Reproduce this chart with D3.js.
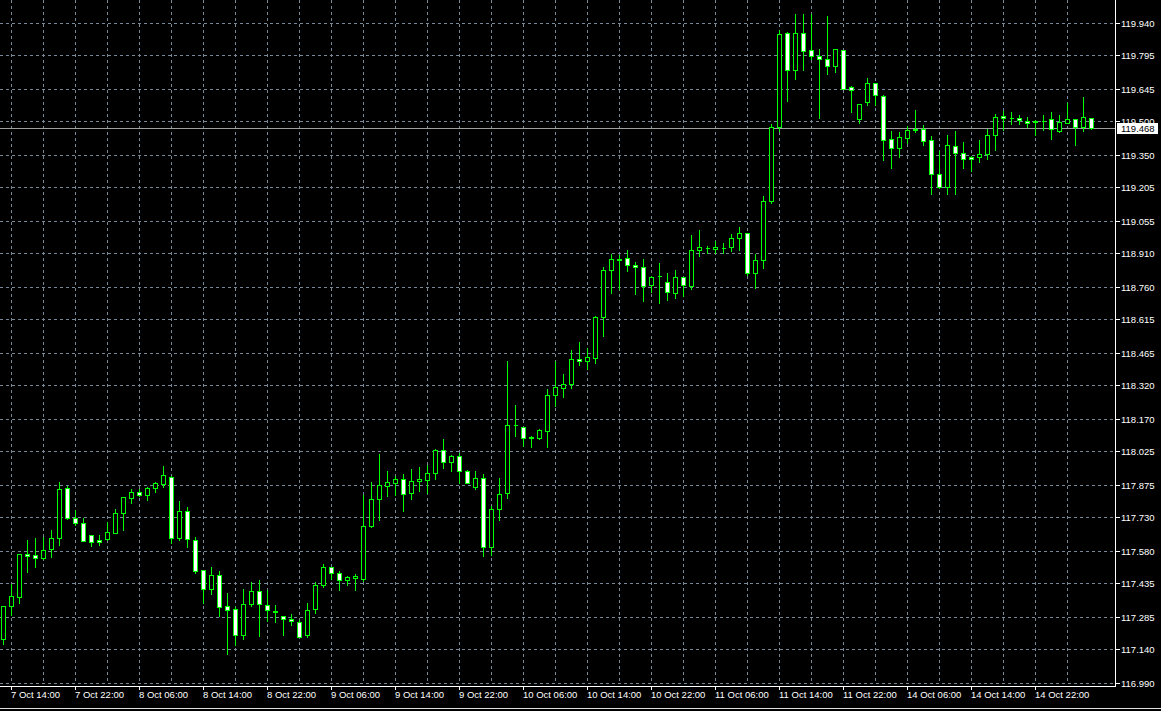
<!DOCTYPE html>
<html><head><meta charset="utf-8">
<script src="https://cdn.jsdelivr.net/npm/d3@7"></script>
<style>html,body{margin:0;padding:0;background:#000;overflow:hidden}</style>
</head><body><svg id="c" width="1161" height="711"></svg>
<script>
// H1 candles, 7 Oct 13:00 .. 15 Oct 05:00
const opens = [117.187,117.334,117.374,117.567,117.562,117.547,117.587,117.636,117.862,117.726,117.705,117.652,117.629,117.634,117.661,117.750,117.815,117.844,117.829,117.860,117.878,117.911,117.636,117.759,117.630,117.495,117.410,117.473,117.334,117.321,117.205,117.341,117.401,117.339,117.313,117.290,117.277,117.263,117.205,117.319,117.426,117.509,117.482,117.450,117.458,117.456,117.690,117.811,117.869,117.882,117.902,117.838,117.891,117.896,117.929,118.032,117.978,118.005,117.938,117.866,117.906,117.598,117.768,117.839,118.142,118.133,118.087,118.083,118.115,118.276,118.307,118.325,118.438,118.429,118.441,118.626,118.836,118.882,118.890,118.859,118.850,118.767,118.808,118.783,118.733,118.805,118.763,118.924,118.933,118.930,118.935,118.936,118.978,119.002,118.820,118.882,119.143,119.474,119.893,119.729,119.893,119.817,119.793,119.780,119.746,119.820,119.651,119.511,119.586,119.672,119.615,119.419,119.380,119.425,119.463,119.467,119.417,119.265,119.206,119.391,119.359,119.341,119.341,119.355,119.440,119.525,119.516,119.514,119.502,119.499,119.501,119.508,119.456,119.493,119.508,119.476,119.516];
const highs = [117.336,117.434,117.570,117.631,117.640,117.647,117.677,117.894,117.872,117.768,117.732,117.653,117.653,117.711,117.772,117.823,117.859,117.862,117.869,117.894,117.963,117.921,117.809,117.779,117.644,117.500,117.510,117.495,117.398,117.332,117.412,117.447,117.456,117.410,117.340,117.295,117.304,117.273,117.349,117.447,117.526,117.511,117.492,117.474,117.482,117.832,117.894,118.015,117.939,117.921,117.926,117.952,117.957,117.966,118.041,118.082,118.011,118.023,117.944,117.939,117.929,117.784,117.908,118.431,118.234,118.137,118.096,118.130,118.306,118.435,118.376,118.484,118.516,118.492,118.635,118.852,118.909,118.908,118.931,118.877,118.890,118.811,118.872,118.827,118.841,118.808,118.994,119.020,118.945,118.967,118.960,118.999,119.030,119.003,118.912,119.170,119.493,119.911,119.902,119.985,119.985,119.985,119.829,119.973,119.824,119.824,119.660,119.577,119.696,119.675,119.620,119.463,119.455,119.481,119.553,119.486,119.440,119.370,119.441,119.459,119.410,119.350,119.419,119.471,119.535,119.550,119.547,119.531,119.523,119.511,119.531,119.548,119.531,119.586,119.511,119.612,119.520];
const lows = [117.164,117.294,117.348,117.484,117.507,117.545,117.552,117.608,117.720,117.696,117.623,117.601,117.605,117.630,117.660,117.675,117.793,117.824,117.806,117.842,117.864,117.616,117.630,117.596,117.482,117.348,117.388,117.288,117.120,117.158,117.185,117.334,117.198,117.265,117.261,117.203,117.248,117.194,117.194,117.304,117.417,117.452,117.404,117.426,117.404,117.443,117.686,117.717,117.824,117.830,117.757,117.811,117.847,117.839,117.902,117.949,117.938,117.884,117.881,117.855,117.556,117.562,117.717,117.815,118.092,118.048,118.045,118.081,118.045,118.227,118.267,118.307,118.410,118.392,118.419,118.539,118.733,118.748,118.830,118.726,118.696,118.736,118.689,118.700,118.708,118.721,118.751,118.897,118.909,118.912,118.912,118.918,118.923,118.812,118.754,118.842,119.133,119.456,119.590,119.687,119.729,119.780,119.514,119.709,119.720,119.642,119.541,119.493,119.571,119.571,119.326,119.289,119.340,119.401,119.451,119.392,119.173,119.203,119.176,119.173,119.289,119.277,119.317,119.329,119.370,119.463,119.489,119.489,119.476,119.438,119.463,119.420,119.451,119.492,119.396,119.456,119.467];
const closes = [117.334,117.376,117.567,117.556,117.547,117.585,117.638,117.857,117.726,117.705,117.625,117.620,117.619,117.665,117.750,117.822,117.841,117.830,117.862,117.881,117.917,117.636,117.759,117.634,117.489,117.410,117.473,117.330,117.316,117.205,117.343,117.401,117.343,117.316,117.306,117.276,117.265,117.196,117.316,117.429,117.509,117.482,117.450,117.461,117.467,117.692,117.813,117.872,117.889,117.902,117.833,117.893,117.899,117.929,118.032,117.978,118.005,117.938,117.884,117.906,117.598,117.768,117.835,118.143,118.141,118.083,118.086,118.118,118.277,118.310,118.327,118.438,118.429,118.444,118.626,118.836,118.885,118.883,118.859,118.850,118.763,118.805,118.807,118.738,118.805,118.769,118.926,118.936,118.933,118.940,118.935,118.979,118.999,118.820,118.882,119.145,119.476,119.888,119.729,119.893,119.813,119.791,119.778,119.746,119.821,119.645,119.639,119.575,119.672,119.617,119.416,119.380,119.428,119.463,119.464,119.413,119.264,119.206,119.395,119.359,119.332,119.332,119.355,119.440,119.520,119.516,119.515,119.505,119.493,119.498,119.500,119.467,119.495,119.508,119.476,119.517,119.468];
const priceTicks = ["119.940","119.795","119.645","119.500","119.350","119.205","119.055","118.910","118.760","118.615","118.465","118.320","118.170","118.025","117.875","117.730","117.580","117.435","117.285","117.140","116.990"];
const timeLabels = ["7 Oct 14:00","7 Oct 22:00","8 Oct 06:00","8 Oct 14:00","8 Oct 22:00","9 Oct 06:00","9 Oct 14:00","9 Oct 22:00","10 Oct 06:00","10 Oct 14:00","10 Oct 22:00","11 Oct 06:00","11 Oct 14:00","11 Oct 22:00","14 Oct 06:00","14 Oct 14:00","14 Oct 22:00"];
const lastPrice = 119.468;

const W = 1161, H = 711;
const axisX = 1115.5, axisY = 686.5;
const svg = d3.select("#c");
const n = opens.length;
const x = d3.scaleLinear().domain([0, n - 1]).range([3.5, 3.5 + 8 * (n - 1)]);
const y = d3.scaleLinear().domain([116.990, 119.940]).range([683.3, 23.3]);
const snap = v => Math.round(v - 0.5) + 0.5;
const font = "'Liberation Sans', Arial, sans-serif";
const grid = "#778899";

// grid
const g = svg.append("g").attr("shape-rendering", "crispEdges");
const vIdx = d3.range(1, n, 4);
g.selectAll("line.v").data(vIdx).join("line")
  .attr("x1", d => x(d)).attr("x2", d => x(d)).attr("y1", 0).attr("y2", 684)
  .attr("stroke", grid).attr("stroke-dasharray", "3,3");
g.selectAll("line.h").data(priceTicks).join("line")
  .attr("x1", 0).attr("x2", axisX).attr("y1", d => snap(y(+d))).attr("y2", d => snap(y(+d)))
  .attr("stroke", grid).attr("stroke-dasharray", "3,3");

// bid line
svg.append("line").attr("x1", 0).attr("x2", axisX).attr("y1", snap(y(lastPrice))).attr("y2", snap(y(lastPrice)))
  .attr("stroke", "#a0a0a0").attr("shape-rendering", "crispEdges");

// candles
const idx = d3.range(n);
const cg = svg.append("g").attr("shape-rendering", "crispEdges");
cg.selectAll("line.w").data(idx).join("line")
  .attr("x1", i => x(i)).attr("x2", i => x(i))
  .attr("y1", i => snap(y(highs[i]))).attr("y2", i => snap(y(lows[i])) + 0.5)
  .attr("stroke", "#00ff00");
cg.selectAll("path.b").data(idx).join("path")
  .attr("d", i => {
    const t = snap(y(Math.max(opens[i], closes[i])));
    const b = snap(y(Math.min(opens[i], closes[i])));
    const l = x(i) - 2;
    return `M${l},${t}h4V${b}h-4Z`;
  })
  .attr("fill", i => closes[i] >= opens[i] ? "#000" : "#fff")
  .attr("stroke", "#00ff00");

// axes
const ag = svg.append("g").attr("shape-rendering", "crispEdges");
ag.append("line").attr("x1", axisX).attr("x2", axisX).attr("y1", 0).attr("y2", axisY).attr("stroke", "#fff");
ag.append("line").attr("x1", 0).attr("x2", axisX).attr("y1", axisY).attr("y2", axisY).attr("stroke", "#fff");
ag.selectAll("line.pt").data(priceTicks).join("line")
  .attr("x1", axisX).attr("x2", axisX + 4).attr("y1", d => snap(y(+d))).attr("y2", d => snap(y(+d))).attr("stroke", "#fff");
svg.selectAll("text.p").data(priceTicks).join("text")
  .attr("x", 1121).attr("y", d => y(+d) + 3.3)
  .attr("fill", "#fff").attr("font-family", font).attr("font-size", 9.5).text(d => d);

const tIdx = timeLabels.map((d, k) => 1 + 8 * k);
ag.selectAll("line.tt").data(tIdx).join("line")
  .attr("x1", d => x(d)).attr("x2", d => x(d)).attr("y1", axisY).attr("y2", axisY + 3).attr("stroke", "#fff");
svg.selectAll("text.t").data(timeLabels).join("text")
  .attr("x", (d, k) => x(tIdx[k]) - 0.5).attr("y", 698)
  .attr("fill", "#fff").attr("font-family", font).attr("font-size", 9.5).text(d => d);

// last price label
svg.append("rect").attr("x", 1117).attr("y", snap(y(lastPrice)) - 5.5).attr("width", 41).attr("height", 11)
  .attr("fill", "#fff").attr("shape-rendering", "crispEdges");
svg.append("text").attr("x", 1121).attr("y", y(lastPrice) + 3.3).attr("fill", "#000")
  .attr("font-family", font).attr("font-size", 9.5).text(d3.format(".3f")(lastPrice));

// bottom window border
svg.append("line").attr("x1", 0).attr("x2", W).attr("y1", 708.5).attr("y2", 708.5)
  .attr("stroke", "#e0e0e0").attr("shape-rendering", "crispEdges");
</script></body></html>
